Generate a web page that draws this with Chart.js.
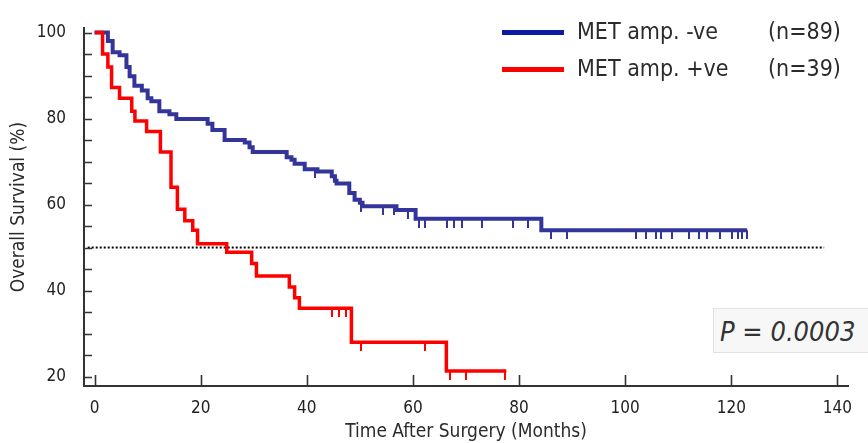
<!DOCTYPE html>
<html lang="en">
<head>
  <meta charset="UTF-8">
  <title>Overall Survival by MET amplification</title>
  <script src="https://cdn.jsdelivr.net/npm/chart.js"></script>
  <style>
    body {
      margin: 0;
      background: #fff;
      font-family: "Liberation Sans Narrow", "DejaVu Sans Condensed", "Open Sans", sans-serif;
      color: #2b2b2b;
    }

    .wrap {
      position: relative;
      width: 868px;
      height: 443px;
    }

    .legend {
      position: absolute;
      left: 502px;
      top: 17px;
      font-size: 23px;
    }

    .legend-row {
      position: relative;
      height: 37px;
      width: 360px;
    }

    .legend-line {
      position: absolute;
      left: 0;
      top: 13px;
      width: 62px;
      height: 5px;
    }

    .legend-label {
      position: absolute;
      left: 75px;
      top: 1px;
      white-space: nowrap;
    }

    .legend-n {
      position: absolute;
      left: 266px;
      top: 1px;
    }

    .pbox {
      position: absolute;
      left: 713px;
      top: 308px;
      width: 160px;
      height: 45px;
      background: #f7f7f7;
      border: 1px solid #e2e2e2;
      font-size: 27px;
      font-style: italic;
      line-height: 45px;
      padding-left: 6px;
      box-sizing: border-box;
      white-space: nowrap;
      color: #333;
    }
  </style>
</head>
<body>
  <div class="wrap">
    <canvas id="kmChart" width="868" height="443"></canvas>

    <div class="legend">
      <div class="legend-row">
        <span class="legend-line" style="background:#0d1aa3"></span>
        <span class="legend-label">MET amp. -ve</span>
        <span class="legend-n">(n=89)</span>
      </div>
      <div class="legend-row">
        <span class="legend-line" style="background:#ff0000"></span>
        <span class="legend-label">MET amp. +ve</span>
        <span class="legend-n">(n=39)</span>
      </div>
    </div>

    <div class="pbox">P = 0.0003</div>
  </div>

  <script>
    // survival curves (months, %)
    const negTime = [0, 2.5, 3.4, 4.7, 6.0, 6.6, 7.5, 8.9, 10, 10.7, 12.2, 14.1, 15.4, 21.3, 22.2, 24.5, 28.3, 29.2, 29.8, 36.2, 37.1, 37.7, 39.6, 42, 44.7, 45.3, 45.6, 48, 49, 50, 50.5, 56.9, 60.5, 84.2, 123];
    const negSurv = [100, 98, 95.4, 94.7, 92, 89.8, 87.6, 86.5, 84.7, 84, 81.7, 81, 79.9, 78.8, 77.3, 75, 74.4, 73.3, 72.2, 71, 70.4, 69.5, 68.2, 67.7, 66.6, 65.5, 64.9, 62.7, 61.1, 60.4, 59.6, 58.7, 56.7, 54.0, 54.0];

    const posTime = [0, 1.5, 2.5, 3.2, 4.7, 7.0, 7.6, 9.8, 12.4, 14.4, 15.6, 17, 18.5, 19.4, 24.9, 29.6, 30.5, 36.7, 37.7, 38.6, 48.4, 66.3, 77.6];
    const posSurv = [100, 95, 92, 87.2, 84.7, 81.7, 79.4, 77, 72.2, 64, 58.9, 56.2, 54, 50.9, 48.9, 46.3, 43.4, 40.8, 38.3, 35.9, 28, 21.3, 21.3];

    // censored patients (months)
    const negCensor = [41.5, 50.3, 54.3, 56.5, 59, 61.2, 62.2, 66.5, 67.8, 69.3, 73.1, 78.8, 81.6, 86.1, 89.1, 102.1, 104.0, 105.9, 106.8, 108.9, 112.1, 114.0, 115.5, 117.8, 120.2, 121.2, 122.1, 122.9];
    const posCensor = [44.7, 46, 47.3, 50.3, 62.2, 66.9, 70, 77.3];

    // median line and axis ticks
    const medianLine = [-1.3, 137.5];
    const medianValue = 50;
    const xTickValues = [0, 20, 40, 60, 80, 100, 120, 140];
    const yLabelValues = [20, 40, 60, 80, 100];
    const yMarkValues = [20, 25, 30, 35, 40, 45, 50, 55, 60, 65, 70, 75, 80, 85, 90, 95, 100];

    const BLUE = "#34359b";
    const RED = "#ff0000";
    const FONT = '"Liberation Sans Narrow", "DejaVu Sans Condensed", "Open Sans", sans-serif';

    function toPoints(xs, ys) {
      return xs.map((x, i) => ({ x: x, y: ys[i] }));
    }

    // value of a step curve at time t
    function survAt(times, surv, t) {
      let v = surv[0];
      for (let i = 0; i < times.length; i++) {
        if (times[i] <= t) v = surv[i];
      }
      return v;
    }

    // small tick hanging below the line for censored cases
    function censorMark(color) {
      const c = document.createElement("canvas");
      c.width = 2;
      c.height = 18;
      const g = c.getContext("2d");
      g.fillStyle = color;
      g.fillRect(0, 9, 2, 9);
      return c;
    }

    const innerTicks = {
      id: "innerTicks",
      afterDraw(chart) {
        const ctx = chart.ctx;
        const xs = chart.scales.x;
        const ys = chart.scales.y;
        const area = chart.chartArea;
        ctx.save();
        ctx.strokeStyle = "#333";
        ctx.lineWidth = 1.6;
        ctx.beginPath();
        yMarkValues.forEach(v => {
          const py = Math.round(ys.getPixelForValue(v)) + 0.5;
          ctx.moveTo(area.left, py);
          ctx.lineTo(area.left + 8, py);
        });
        xTickValues.forEach(v => {
          const px = Math.round(xs.getPixelForValue(v)) + 0.5;
          ctx.moveTo(px, area.bottom);
          ctx.lineTo(px, area.bottom - 11);
        });
        ctx.stroke();
        ctx.restore();
      }
    };

    const ctx = document.getElementById("kmChart").getContext("2d");
    new Chart(ctx, {
      type: "line",
      data: {
        datasets: [
          {
            label: "MET amp. -ve",
            data: toPoints(negTime, negSurv),
            borderColor: BLUE,
            borderWidth: 4,
            stepped: true,
            pointRadius: 0,
            fill: false,
            order: 1
          },
          {
            label: "MET amp. +ve",
            data: toPoints(posTime, posSurv),
            borderColor: RED,
            borderWidth: 3.5,
            stepped: true,
            pointRadius: 0,
            fill: false,
            order: 0
          },
          {
            label: "censored -ve",
            data: negCensor.map(t => ({ x: t, y: survAt(negTime, negSurv, t) })),
            showLine: false,
            pointStyle: censorMark(BLUE),
            order: 2
          },
          {
            label: "censored +ve",
            data: posCensor.map(t => ({ x: t, y: survAt(posTime, posSurv, t) })),
            showLine: false,
            pointStyle: censorMark(RED),
            order: 2
          },
          {
            label: "median",
            data: medianLine.map(x => ({ x: x, y: medianValue })),
            borderColor: "#000",
            borderWidth: 2,
            borderDash: [2, 2],
            pointRadius: 0,
            fill: false,
            order: 3
          }
        ]
      },
      options: {
        responsive: false,
        animation: false,
        clip: false,
        layout: { padding: { top: 9.5, right: 20, left: 0, bottom: 0 } },
        plugins: {
          legend: { display: false },
          tooltip: { enabled: false }
        },
        scales: {
          x: {
            type: "linear",
            min: -2,
            max: 142,
            grid: { display: false, drawTicks: false },
            border: { display: true, color: "#333", width: 2 },
            afterBuildTicks: s => { s.ticks = xTickValues.map(v => ({ value: v })); },
            afterFit: s => { s.height = 57; },
            ticks: {
              padding: 12,
              color: "#222",
              font: { family: FONT, size: 17 }
            },
            title: {
              display: true,
              text: "Time After Surgery (Months)",
              color: "#2b2b2b",
              padding: { top: 0, bottom: 0 },
              font: { family: FONT, size: 19 }
            }
          },
          y: {
            min: 17.8,
            max: 101,
            grid: { display: false, drawTicks: false },
            border: { display: true, color: "#333", width: 2 },
            afterBuildTicks: s => { s.ticks = yLabelValues.map(v => ({ value: v })); },
            afterFit: s => { s.width = 84; },
            ticks: {
              padding: 18,
              color: "#222",
              font: { family: FONT, size: 17 }
            },
            title: {
              display: true,
              text: "Overall Survival (%)",
              color: "#2b2b2b",
              padding: { top: 8, bottom: 0 },
              font: { family: FONT, size: 19 }
            }
          }
        }
      },
      plugins: [innerTicks]
    });
  </script>
</body>
</html>
